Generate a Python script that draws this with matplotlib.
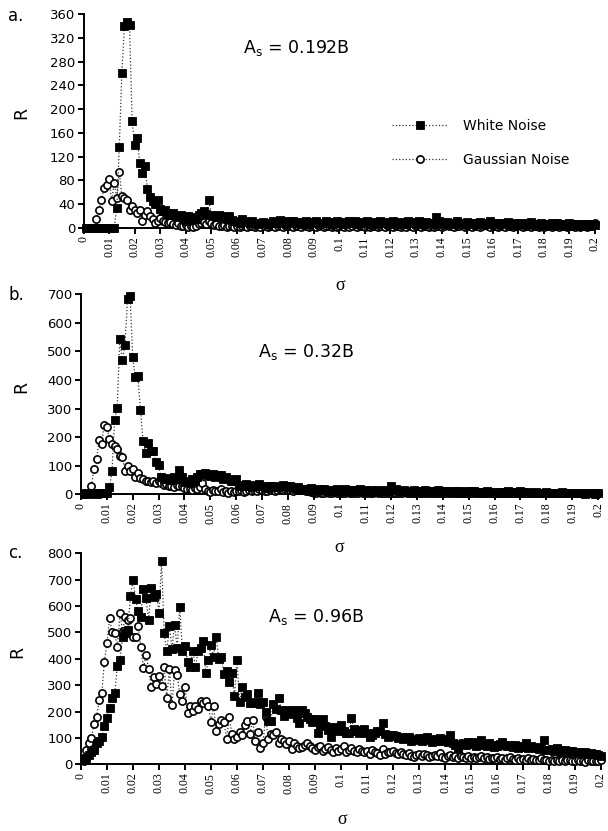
#!/usr/bin/env python3
"""
R versus sigma for white and Gaussian noise at three signal amplitudes.

Three stacked scatter/line panels (a, b, c), written to out.png.
"""

import matplotlib

matplotlib.use("Agg")
import matplotlib.pyplot as plt
import numpy as np

# sigma grid, one sample every 0.001
SIGMA = np.round(np.arange(1, 201) * 0.001, 3)

WHITE_A = [
    0, 0, 0, 0, 0, 0, 0, 0, 0, 0, 0, 0, 33, 137, 261, 340, 346, 342, 180, 140,
    151, 109, 92, 105, 65, 52, 45, 40, 47, 32, 28, 30, 25, 22, 26, 20, 18, 22, 15, 12,
    20, 14, 18, 15, 22, 25, 28, 24, 47, 22, 20, 18, 22, 20, 17, 15, 20, 14, 12, 10,
    8, 15, 12, 10, 8, 11, 9, 7, 8, 10, 8, 6, 9, 12, 8, 10, 14, 9, 7, 11,
    9, 12, 8, 10, 7, 9, 11, 6, 8, 10, 12, 7, 9, 8, 11, 10, 6, 9, 12, 8,
    10, 7, 9, 12, 8, 11, 6, 9, 10, 8, 12, 7, 10, 9, 6, 11, 8, 10, 7, 9,
    12, 8, 6, 10, 9, 7, 11, 8, 10, 6, 12, 9, 7, 10, 8, 9, 6, 18, 11, 8,
    7, 10, 9, 6, 8, 11, 7, 9, 6, 10, 8, 7, 9, 6, 10, 8, 7, 9, 11, 6,
    8, 7, 9, 6, 8, 10, 7, 5, 8, 6, 9, 7, 5, 8, 10, 6, 7, 5, 8, 6,
    7, 5, 8, 6, 9, 5, 7, 6, 4, 8, 6, 5, 7, 4, 6, 5, 7, 4, 6, 5,
]
GAUSS_A = [
    0, 0, 0, 0, 15, 31, 47, 67, 72, 82, 45, 76, 50, 95, 54, 50, 47, 30, 37, 31,
    25, 30, 12, 22, 28, 20, 15, 8, 12, 16, 12, 10, 8, 10, 6, 5, 8, 4, 3, 5,
    2, 3, 2, 4, 6, 8, 10, 6, 12, 8, 5, 6, 4, 3, 5, 2, 3, 4, 2, 3,
    2, 4, 3, 2, 3, 4, 2, 3, 2, 5, 3, 2, 4, 3, 2, 3, 5, 2, 4, 3,
    3, 2, 4, 3, 2, 5, 3, 2, 4, 3, 2, 3, 5, 2, 3, 4, 2, 3, 2, 4,
    3, 2, 4, 2, 3, 5, 2, 3, 4, 2, 3, 2, 4, 3, 2, 3, 5, 2, 3, 4,
    2, 3, 4, 2, 3, 2, 5, 3, 2, 4, 3, 2, 3, 4, 2, 3, 2, 4, 3, 2,
    3, 5, 4, 3, 2, 4, 3, 5, 2, 3, 4, 2, 3, 4, 2, 3, 5, 3, 2, 4,
    3, 2, 4, 3, 2, 3, 4, 2, 3, 5, 3, 2, 4, 3, 2, 3, 4, 2, 3, 2,
    4, 3, 2, 3, 4, 2, 3, 5, 2, 3, 4, 2, 3, 2, 4, 3, 2, 3, 4, 8,
]

WHITE_B = [
    2, 3, 2, 4, 3, 2, 3, 4, 3, 5, 27, 81, 260, 302, 543, 470, 522, 682, 694, 480,
    410, 413, 295, 188, 146, 180, 150, 152, 112, 102, 60, 55, 52, 58, 50, 62, 55, 85, 60, 42,
    45, 40, 55, 48, 60, 72, 70, 75, 68, 65, 70, 62, 66, 68, 55, 60, 52, 48, 45, 55,
    32, 30, 28, 35, 30, 25, 32, 28, 35, 30, 25, 22, 28, 30, 26, 24, 30, 32, 28, 25,
    28, 22, 18, 25, 15, 20, 14, 18, 22, 16, 12, 18, 14, 20, 12, 16, 10, 14, 18, 12,
    14, 18, 10, 12, 16, 14, 10, 18, 12, 14, 10, 16, 12, 8, 14, 10, 12, 14, 10, 30,
    14, 18, 10, 12, 16, 10, 8, 12, 14, 10, 8, 12, 14, 10, 8, 12, 10, 14, 8, 10,
    12, 8, 10, 7, 10, 12, 8, 6, 10, 8, 12, 10, 7, 9, 6, 8, 10, 7, 9, 6,
    5, 7, 8, 6, 10, 7, 5, 8, 6, 10, 7, 5, 8, 6, 4, 7, 5, 6, 4, 7,
    5, 4, 6, 3, 5, 7, 4, 3, 6, 4, 5, 3, 4, 6, 2, 4, 3, 5, 2, 4,
]
GAUSS_B = [
    0, 2, 3, 29, 88, 122, 190, 176, 242, 237, 192, 176, 168, 160, 134, 132, 81, 100, 82, 90,
    62, 75, 58, 52, 48, 45, 42, 48, 40, 45, 38, 32, 35, 28, 30, 25, 32, 28, 30, 22,
    18, 20, 15, 22, 18, 25, 38, 20, 12, 8, 15, 10, 12, 18, 8, 12, 6, 10, 8, 12,
    10, 14, 8, 12, 16, 10, 14, 12, 18, 15, 12, 10, 14, 18, 12, 16, 20, 15, 18, 14,
    16, 12, 18, 22, 20, 15, 12, 10, 8, 6, 5, 8, 6, 4, 7, 5, 6, 8, 5, 4,
    6, 4, 7, 5, 3, 6, 4, 8, 5, 3, 6, 4, 5, 7, 3, 5, 4, 6, 3, 5,
    4, 6, 3, 5, 7, 4, 3, 6, 4, 5, 3, 6, 4, 3, 5, 4, 6, 3, 4, 5,
    3, 5, 4, 6, 3, 4, 5, 3, 6, 4, 3, 5, 4, 3, 6, 4, 5, 3, 4, 3,
    5, 3, 4, 6, 3, 4, 5, 3, 4, 3, 5, 4, 3, 6, 4, 3, 4, 5, 3, 4,
    3, 4, 5, 3, 4, 3, 5, 4, 3, 4, 3, 5, 3, 4, 3, 4, 5, 3, 4, 3,
]

WHITE_C = [
    16, 25, 35, 48, 54, 80, 90, 105, 146, 177, 212, 250, 271, 372, 397, 483, 497, 509, 637, 698,
    625, 582, 557, 663, 629, 549, 667, 633, 645, 574, 770, 496, 429, 524, 438, 530, 440, 595, 428, 450,
    389, 370, 430, 368, 428, 440, 468, 347, 396, 452, 408, 483, 400, 407, 341, 353, 312, 345, 259, 397,
    236, 294, 257, 268, 234, 234, 238, 270, 230, 236, 197, 165, 165, 230, 210, 253, 204, 184, 204, 200,
    190, 205, 176, 156, 206, 195, 180, 170, 161, 172, 120, 150, 172, 145, 130, 105, 140, 125, 135, 150,
    128, 120, 118, 174, 135, 125, 118, 130, 135, 120, 105, 112, 118, 125, 128, 155, 115, 105, 110, 110,
    108, 100, 105, 95, 98, 102, 90, 92, 96, 98, 88, 100, 105, 92, 85, 95, 90, 98, 88, 95,
    85, 110, 80, 75, 60, 78, 80, 72, 85, 78, 85, 70, 80, 92, 75, 68, 80, 72, 65, 70,
    78, 85, 72, 68, 75, 65, 72, 60, 70, 66, 80, 62, 70, 66, 60, 58, 64, 92, 55, 53,
    58, 50, 60, 55, 48, 53, 45, 50, 52, 45, 48, 47, 42, 45, 40, 42, 38, 40, 35, 33,
]
GAUSS_C = [
    12, 54, 82, 100, 153, 180, 243, 271, 389, 461, 553, 500, 497, 443, 572, 505, 559, 547, 553, 483,
    483, 523, 445, 367, 413, 362, 292, 330, 304, 336, 298, 369, 251, 362, 223, 356, 340, 266, 240, 292,
    196, 222, 203, 222, 210, 240, 234, 240, 222, 160, 222, 127, 153, 167, 160, 96, 180, 116, 96, 102,
    122, 110, 148, 163, 116, 167, 90, 122, 63, 82, 180, 96, 116, 110, 122, 82, 96, 88, 76, 90,
    57, 80, 70, 60, 64, 74, 80, 70, 60, 55, 64, 70, 52, 58, 64, 55, 48, 60, 52, 58,
    70, 48, 55, 60, 52, 45, 58, 50, 45, 52, 40, 55, 48, 42, 35, 58, 40, 48, 45, 50,
    42, 38, 45, 40, 35, 42, 30, 28, 35, 38, 32, 40, 35, 28, 32, 35, 30, 42, 28, 22,
    30, 35, 28, 32, 25, 30, 28, 22, 30, 25, 28, 22, 26, 30, 22, 28, 20, 25, 22, 28,
    20, 24, 18, 22, 26, 20, 18, 22, 16, 20, 18, 22, 16, 20, 18, 15, 22, 16, 18, 14,
    16, 12, 18, 14, 16, 12, 15, 18, 12, 14, 16, 12, 14, 10, 15, 12, 14, 11, 13, 15,
]

LETTERS = ["a.", "b.", "c."]
AMPLITUDES = ["0.192B", "0.32B", "0.96B"]
Y_MAX = [360, 700, 800]
Y_STEP = [40, 100, 100]

# layout in pixels of a 608 x 831 canvas
W_PX, H_PX = 608, 831
AXES_PX = [  # left, top, right, bottom
    (83.5, 14, 595, 228),
    (81, 294.3, 598, 494.3),
    (81, 553.3, 601, 764.3),
]
LETTER_PX = [(8, 16), (8, 295), (8, 553)]
AMP_PX = [(243, 48), (258, 352), (268, 617)]
RLABEL_PX = [(21, 113), (21, 387), (17, 652)]
SIGMA_PX = [(340, 285), (339, 547), (342, 820)]


def fx(x):
    return x / W_PX


def fy(y):
    return 1 - y / H_PX


def render(path="out.png"):
    fig = plt.figure(figsize=(W_PX / 100, H_PX / 100), dpi=100)
    fig.patch.set_facecolor("white")

    series = [(WHITE_A, GAUSS_A), (WHITE_B, GAUSS_B), (WHITE_C, GAUSS_C)]
    xticks = np.round(np.arange(0, 0.2001, 0.01), 2)

    for i, (white, gauss) in enumerate(series):
        l, t, r, b = AXES_PX[i]
        ax = fig.add_axes([fx(l), fy(b), (r - l) / W_PX, (b - t) / H_PX])

        g_line, = ax.plot(
            SIGMA, gauss, ls=":", lw=0.9, color="0.2",
            marker="o", ms=5.2, mfc="white", mec="black", mew=1.2,
            clip_on=False, zorder=3, label="Gaussian Noise",
        )
        w_line, = ax.plot(
            SIGMA, white, ls=":", lw=0.9, color="0.2",
            marker="s", ms=5.4, mfc="black", mec="black", mew=0.6,
            clip_on=False, zorder=4, label="White Noise",
        )

        ax.set_xlim(0, 0.2)
        ax.set_ylim(0, Y_MAX[i])
        ax.set_yticks(np.arange(0, Y_MAX[i] + 1, Y_STEP[i]))
        ax.set_xticks(xticks)
        ax.set_xticklabels([f"{v:g}" for v in xticks], rotation=90,
                           fontsize=8.5, family="Liberation Serif")
        for lab in ax.get_yticklabels():
            lab.set_fontsize(9.5)

        for side in ("top", "right"):
            ax.spines[side].set_visible(False)
        for side in ("left", "bottom"):
            ax.spines[side].set_linewidth(1.4)
        ax.tick_params(axis="both", direction="out", length=4.5, width=1.4,
                       pad=1.5, colors="black")

        fig.text(fx(LETTER_PX[i][0]), fy(LETTER_PX[i][1]), LETTERS[i],
                 fontsize=12, ha="left", va="center")
        fig.text(fx(AMP_PX[i][0]), fy(AMP_PX[i][1]),
                 r"A$_\mathregular{s}$ = " + AMPLITUDES[i],
                 fontsize=12.5, ha="left", va="center")
        fig.text(fx(RLABEL_PX[i][0]), fy(RLABEL_PX[i][1]), "R",
                 fontsize=12.5, rotation=90, ha="center", va="center")
        fig.text(fx(SIGMA_PX[i][0]), fy(SIGMA_PX[i][1]), "σ",
                 fontsize=13, family="Liberation Serif", ha="center", va="center")

        if i == 0:
            ax.legend(
                handles=[w_line, g_line],
                loc="upper left",
                bbox_to_anchor=(0.603, 0.51),
                frameon=False,
                fontsize=10,
                handlelength=4.0,
                handletextpad=1.1,
                labelspacing=1.45,
                borderpad=0,
                borderaxespad=0,
                numpoints=1,
            )

    fig.savefig(path, dpi=100, facecolor="white")
    plt.close(fig)


if __name__ == "__main__":
    render()
